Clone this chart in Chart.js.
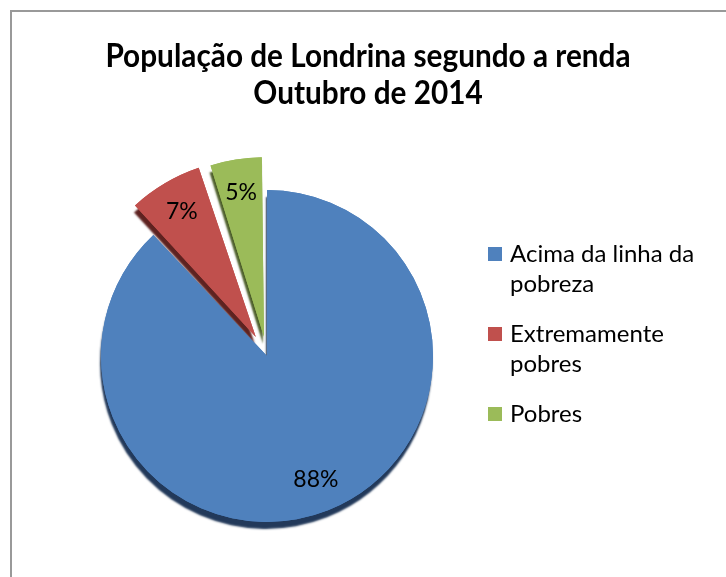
<!DOCTYPE html>
<html>
<head>
<meta charset="utf-8">
<script src="https://cdn.jsdelivr.net/npm/chart.js@4.4.1/dist/chart.umd.min.js"></script>
<style>
    html, body { margin: 0; padding: 0; background: #fff; width: 726px; height: 577px; overflow: hidden; }
    #frame { position: absolute; left: 10px; top: 10px; width: 800px; height: 700px; border-left: 2px solid #999; border-top: 2px solid #999; }
    #chart { position: absolute; left: 0; top: 0; }
    #legend { position: absolute; left: 488px; top: 238px; width: 216px; font-family: Lato, sans-serif; font-size: 24px; line-height: 30px; color: #000; }
    .legend-item { position: relative; padding-left: 22px; margin-bottom: 20px; }
    .legend-box { position: absolute; left: 0; top: 9px; width: 14px; height: 14px; }
</style>
</head>
<body>
<div id="frame"></div>
<canvas id="chart" width="726" height="640"></canvas>
<div id="legend"></div>
<script>
const titleLines = ['População de Londrina segundo a renda', 'Outubro de 2014'];
const categories = ['Acima da linha da pobreza', 'Extremamente pobres', 'Pobres'];
const shares = [88, 7, 5];
const sliceColors = ['#4F81BD', '#C0504D', '#9BBB59'];
const edgeColors = ['#22395a', '#5e2220', '#4d5f2a'];

// legend (html so the labels wrap like in the original)
const legend = document.getElementById('legend');
categories.forEach((name, i) => {
    const item = document.createElement('div');
    item.classList.add('legend-item');
    item.innerHTML = `<span class="legend-box" style="background:${sliceColors[i]}"></span>${name}`;
    legend.appendChild(item);
});

const pieDecor = {
    id: 'pieDecor',
    beforeDatasetsDraw(chart) {
        // dark side walls, drawn as a shadow under each slice
        const ctx = chart.ctx;
        chart.getDatasetMeta(0).data.forEach((arc, i) => {
            ctx.save();
            ctx.shadowColor = edgeColors[i];
            ctx.shadowOffsetX = -1;
            ctx.shadowOffsetY = 7;
            ctx.shadowBlur = 2;
            arc.draw(ctx);
            ctx.restore();
        });
    },
    afterDatasetsDraw(chart) {
        const ctx = chart.ctx;
        ctx.save();
        ctx.font = '23px Lato';
        ctx.fillStyle = '#000';
        ctx.textAlign = 'center';
        ctx.textBaseline = 'middle';
        chart.getDatasetMeta(0).data.forEach((arc, i) => {
            const p = arc.getProps(['x', 'y', 'startAngle', 'endAngle', 'outerRadius', 'circumference']);
            const mid = (p.startAngle + p.endAngle) / 2;
            const off = (arc.options.offset || 0) / 4;
            const shift = off * (2 - Math.sin(Math.min(Math.PI, p.circumference)));
            const d = shift + p.outerRadius * 0.8;
            ctx.fillText(shares[i] + '%', p.x + Math.cos(mid) * d, p.y + Math.sin(mid) * d);
        });
        ctx.restore();
    },
    afterDraw(chart) {
        const ctx = chart.ctx;
        ctx.save();
        ctx.font = 'bold 32px Lato';
        ctx.fillStyle = '#000';
        ctx.textAlign = 'center';
        ctx.textBaseline = 'alphabetic';
        titleLines.forEach((line, i) => {
            ctx.save();
            ctx.translate(368, 67 + i * 37);
            ctx.scale(0.93, 1);
            ctx.fillText(line, 0, 0);
            ctx.restore();
        });
        ctx.restore();
    }
};

new Chart(document.getElementById('chart'), {
    type: 'pie',
    data: {
        labels: categories,
        datasets: [{
            data: shares,
            backgroundColor: sliceColors,
            borderWidth: 0,
            offset: [0, 88, 78],
            radius: 166,
            clip: false
        }]
    },
    options: {
        responsive: false,
        animation: false,
        layout: { padding: { left: 0, right: 192, top: 72, bottom: 0 } },
        plugins: {
            legend: { display: false },
            title: { display: false },
            tooltip: { enabled: false }
        }
    },
    plugins: [pieDecor]
});
</script>
</body>
</html>
